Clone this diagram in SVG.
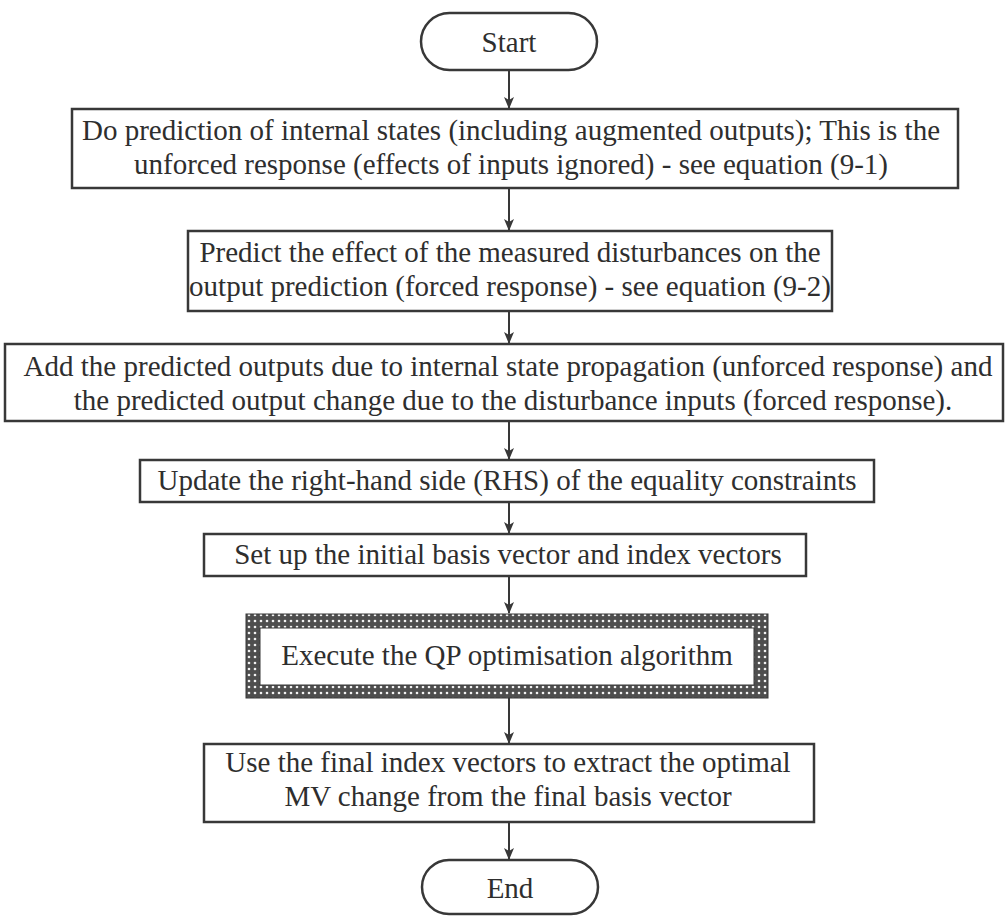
<svg xmlns="http://www.w3.org/2000/svg" width="1007" height="916" viewBox="0 0 1007 916">
<style>
.box{fill:#fff;stroke:#383838;stroke-width:2.5}
.term{fill:#fff;stroke:#383838;stroke-width:2.5}
.t{font-family:"Liberation Serif","Times New Roman",serif;font-size:29px;fill:#2e2e2e;text-anchor:middle}
.conn{stroke:#383838;stroke-width:2;fill:none;marker-end:url(#ah)}
</style>
<defs>
<marker id="ah" markerWidth="12" markerHeight="12" refX="11" refY="6" orient="auto" markerUnits="userSpaceOnUse">
<path d="M0,1 L12,6 L0,11 L3,6 z" fill="#383838"/>
</marker>
<pattern id="dots" width="6" height="6" patternUnits="userSpaceOnUse">
<rect width="6" height="6" fill="#4e4e4e"/>
<circle cx="3" cy="3" r="1.3" fill="#f2f2f2"/>
</pattern>
</defs>
<rect width="1007" height="916" fill="#fff"/>
<g id="connectors">
<line class="conn" x1="509" y1="70" x2="509" y2="108"/>
<line class="conn" x1="509" y1="188" x2="509" y2="230"/>
<line class="conn" x1="509" y1="311" x2="509" y2="343"/>
<line class="conn" x1="509" y1="421" x2="509" y2="459"/>
<line class="conn" x1="509" y1="502" x2="509" y2="533"/>
<line class="conn" x1="509" y1="576" x2="509" y2="613"/>
<line class="conn" x1="509" y1="698" x2="509" y2="743"/>
<line class="conn" x1="509" y1="822" x2="509" y2="859"/>
</g>
<g id="start">
<rect class="term" x="421" y="13" width="176" height="57" rx="28.5"/>
<text class="t" x="509" y="52">Start</text>
</g>
<g id="step1">
<rect class="box" x="72" y="109" width="886" height="79"/>
<text class="t" x="511" y="140">Do prediction of internal states (including augmented outputs); This is the</text>
<text class="t" x="511" y="174">unforced response (effects of inputs ignored) - see equation (9-1)</text>
</g>
<g id="step2">
<rect class="box" x="188" y="231" width="644" height="80"/>
<text class="t" x="510" y="262">Predict the effect of the measured disturbances on the</text>
<text class="t" x="510" y="296">output prediction (forced response) - see equation (9-2)</text>
</g>
<g id="step3">
<rect class="box" x="5" y="344" width="998" height="77"/>
<text class="t" x="508" y="376">Add the predicted outputs due to internal state propagation (unforced response) and</text>
<text class="t" x="513" y="410">the predicted output change due to the disturbance inputs (forced response).</text>
</g>
<g id="step4">
<rect class="box" x="140" y="460" width="734" height="42"/>
<text class="t" x="507" y="490">Update the right-hand side (RHS) of the equality constraints</text>
</g>
<g id="step5">
<rect class="box" x="204" y="534" width="602" height="42"/>
<text class="t" x="508" y="564">Set up the initial basis vector and index vectors</text>
</g>
<g id="step6">
<rect x="246" y="614" width="522" height="84" fill="url(#dots)" stroke="#383838" stroke-width="1"/>
<rect x="260" y="628" width="494" height="57" fill="#fff" stroke="#383838" stroke-width="1"/>
<text class="t" x="507" y="665">Execute the QP optimisation algorithm</text>
</g>
<g id="step7">
<rect class="box" x="204" y="744" width="610" height="78"/>
<text class="t" x="508" y="772">Use the final index vectors to extract the optimal</text>
<text class="t" x="508" y="806">MV change from the final basis vector</text>
</g>
<g id="end">
<rect class="term" x="422" y="860" width="176" height="54" rx="27"/>
<text class="t" x="510" y="898">End</text>
</g>
</svg>
